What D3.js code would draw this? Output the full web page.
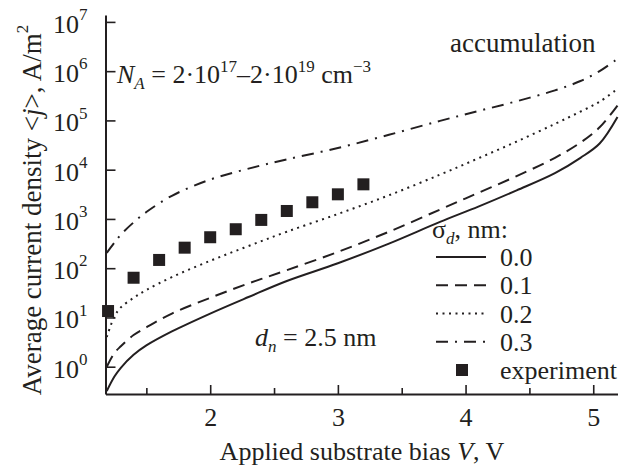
<!DOCTYPE html>
<html>
<head>
<meta charset="utf-8">
<title>Average current density vs substrate bias</title>
<style>
  body { margin: 0; background: #fff; }
  svg text { font-family: "Liberation Serif", "Times New Roman", serif; fill: #231f20; }
  .axis path, .axis line { fill: none; stroke: #231f20; }
  .axis path { stroke-width: 2; }
  .axis line { stroke-width: 1.6; }
  .curve { fill: none; stroke: #231f20; stroke-width: 2; }
</style>
<script src="https://d3js.org/d3.v7.min.js"></script>
</head>
<body>
<script>
// bias grid shared by the model curves (V)
var biasGrid = [1.19, 1.25, 1.3, 1.4, 1.5, 1.7, 2.0, 2.3, 2.6, 3.0, 3.4, 3.8, 4.1, 4.4, 4.7, 4.9, 5.05, 5.19];
// average current density, A/m^2, one array per sigma_d
var jSigma00 = [0.32, 0.63, 0.95, 1.74, 2.7, 5.2, 12, 26, 55, 126, 316, 871, 1780, 3800, 8500, 17400, 33900, 117000];
var jSigma01 = [1.0, 1.9, 2.6, 4.4, 6.3, 12, 25, 49, 91, 214, 550, 1550, 3390, 7400, 17400, 35500, 72400, 200000];
var jSigma02 = [4.0, 10.5, 16, 25, 36, 66, 141, 282, 550, 1260, 3020, 7940, 17000, 37200, 85000, 151000, 240000, 437000];
var jSigma03 = [204, 331, 479, 851, 1380, 2950, 6300, 10500, 16200, 27500, 51000, 98000, 155000, 245000, 407000, 631000, 1000000, 1780000];
// experiment
var expV = [1.2, 1.4, 1.6, 1.8, 2.0, 2.2, 2.4, 2.6, 2.8, 3.0, 3.2];
var expJ = [13.5, 64, 147, 261, 425, 618, 955, 1450, 2180, 3160, 5040];

var sigmaLabels = ["0.0", "0.1", "0.2", "0.3"];
var dashes = [null, "12,7", "2,4.5", "12,7,2,7"];
var xMajor = [2, 3, 4, 5];
var xMinor = [1.5, 2.5, 3.5, 4.5];
var yTicks = [1, 10, 100, 1e3, 1e4, 1e5, 1e6, 1e7];

var width = 626, height = 469;
var svg = d3.select('body').append('svg')
  .attr('width', width)
  .attr('height', height);

var x = d3.scaleLinear().domain([1.18, 5.19]).range([105.5, 617.5]);
var y = d3.scaleLog().domain([Math.pow(10, -0.554), Math.pow(10, 7.14)]).range([394, 15]);

// axes (ticks point inwards)
svg.append('g').attr('class', 'axis')
  .attr('transform', 'translate(0,394)')
  .call(d3.axisBottom(x).tickValues(xMinor).tickSizeInner(-6).tickSizeOuter(0).tickFormat(''))
  .select('.domain').remove();

var gx = svg.append('g').attr('class', 'axis')
  .attr('transform', 'translate(0,394)')
  .call(d3.axisBottom(x).tickValues(xMajor).tickSizeInner(-9).tickSizeOuter(0).tickPadding(24).tickFormat(d3.format('d')));
gx.selectAll('text').attr('font-size', 26).attr('font-family', null).attr('dy', '0.3em');

var gy = svg.append('g').attr('class', 'axis')
  .attr('transform', 'translate(105.5,0)')
  .call(d3.axisLeft(y).tickValues(yTicks).tickSizeInner(-10).tickSizeOuter(0).tickPadding(18));
gy.selectAll('text').each(function(d) {
  var t = d3.select(this).text(null).attr('font-size', 26).attr('font-family', null).attr('dy', '0.4em');
  t.append('tspan').text('10');
  t.append('tspan').attr('font-size', 17).attr('dy', '-0.75em').text(Math.round(Math.log10(d)));
});

// model curves
var line = d3.line()
  .x(function(d) { return x(d[0]); })
  .y(function(d) { return y(d[1]); })
  .curve(d3.curveCatmullRom.alpha(0.5));

var series = [jSigma00, jSigma01, jSigma02, jSigma03];
series.forEach(function(js, i) {
  svg.append('path')
    .attr('class', 'curve')
    .attr('d', line(biasGrid.map(function(v, k) { return [v, js[k]]; })))
    .attr('stroke-dasharray', dashes[i]);
});

// experiment points
svg.selectAll('.exp')
  .data(expV)
  .enter().append('rect')
  .attr('class', 'exp')
  .attr('x', function(v) { return x(v) - 6; })
  .attr('y', function(v, i) { return y(expJ[i]) - 6; })
  .attr('width', 12).attr('height', 12)
  .attr('fill', '#231f20');

// axis titles
svg.append('text')
  .attr('x', 362).attr('y', 460)
  .attr('text-anchor', 'middle').attr('font-size', 26)
  .call(function(t) {
    t.append('tspan').text('Applied substrate bias ');
    t.append('tspan').attr('font-style', 'italic').text('V');
    t.append('tspan').text(', V');
  });

svg.append('text')
  .attr('transform', 'translate(41,210) rotate(-90)')
  .attr('text-anchor', 'middle').attr('font-size', 27)
  .call(function(t) {
    t.append('tspan').text('Average current density <');
    t.append('tspan').attr('font-style', 'italic').text('j');
    t.append('tspan').text('>, A/m');
    t.append('tspan').attr('font-size', 17).attr('dy', '-0.75em').text('2');
  });

// annotations
svg.append('text')
  .attr('x', 117).attr('y', 83).attr('font-size', 26)
  .call(function(t) {
    t.append('tspan').attr('font-style', 'italic').text('N');
    t.append('tspan').attr('font-style', 'italic').attr('font-size', 17).attr('dy', 6).text('A');
    t.append('tspan').attr('dy', -6).text(' = 2\u00b710');
    t.append('tspan').attr('font-size', 17).attr('dy', -11).text('17');
    t.append('tspan').attr('dy', 11).text('\u20132\u00b710');
    t.append('tspan').attr('font-size', 17).attr('dy', -11).text('19');
    t.append('tspan').attr('dy', 11).text(' cm');
    t.append('tspan').attr('font-size', 17).attr('dy', -11).text('\u22123');
  });

svg.append('text')
  .attr('x', 450).attr('y', 52).attr('font-size', 27)
  .text('accumulation');

svg.append('text')
  .attr('x', 255).attr('y', 346).attr('font-size', 26)
  .call(function(t) {
    t.append('tspan').attr('font-style', 'italic').text('d');
    t.append('tspan').attr('font-style', 'italic').attr('font-size', 17).attr('dy', 6).text('n');
    t.append('tspan').attr('dy', -6).text(' = 2.5 nm');
  });

// legend
var legend = svg.append('g');
legend.append('text')
  .attr('x', 432).attr('y', 238).attr('font-size', 26)
  .call(function(t) {
    t.append('tspan').text('\u03c3');
    t.append('tspan').attr('font-style', 'italic').attr('font-size', 17).attr('dy', 6).text('d');
    t.append('tspan').attr('dy', -6).text(', nm:');
  });

var rowY = d3.scalePoint().domain(d3.range(5)).range([257, 370]);
sigmaLabels.forEach(function(lab, i) {
  legend.append('line')
    .attr('class', 'curve')
    .attr('x1', 436).attr('x2', 486)
    .attr('y1', rowY(i)).attr('y2', rowY(i))
    .attr('stroke-dasharray', dashes[i]);
  legend.append('text')
    .attr('x', 500).attr('y', rowY(i) + 9).attr('font-size', 26)
    .text(lab);
});
legend.append('rect')
  .attr('x', 456).attr('y', rowY(4) - 6)
  .attr('width', 12).attr('height', 12)
  .attr('fill', '#231f20');
legend.append('text')
  .attr('x', 500).attr('y', rowY(4) + 9).attr('font-size', 26)
  .text('experiment');
</script>
</body>
</html>
